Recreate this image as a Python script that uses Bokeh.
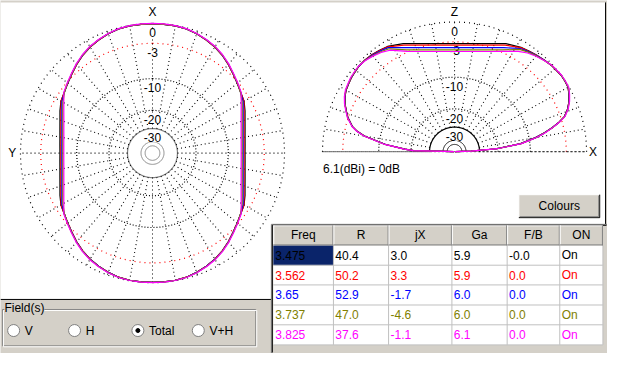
import numpy as np
from bokeh.plotting import figure
from bokeh.models import Range1d
from bokeh.core.properties import value
from bokeh.embed import file_html
from bokeh.resources import INLINE

# ---------------- data ----------------
ring_db = [0, -3, -10, -20, -30]
ring_labels = ["0", "-3", "-10", "-20", "-30"]
inner_db = [-44, -52]
spoke_step = 10

series_colors = ["#000000", "#ff0000", "#0000ff", "#808000", "#ff00ff"]

# azimuth (XY plane) pattern, one quadrant (deg from X axis), dB
az_angles = [0, 5, 10, 15, 20, 25, 30, 35, 40, 45, 50, 55, 60, 65, 70, 75, 80, 85, 90]
az_black = [-0.05, -0.05, -0.07, -0.16, -0.38, -0.68, -1.03, -1.48, -2.04, -2.65, -3.18,
            -3.66, -4.0, -4.63, -5.28, -5.77, -6.12, -6.32, -6.4]
az_red = [-0.05, -0.05, -0.07, -0.16, -0.38, -0.68, -1.03, -1.48, -2.04, -2.65, -3.18,
          -3.66, -4.02, -4.82, -5.47, -5.97, -6.31, -6.52, -6.59]
az_blue = [-0.05, -0.05, -0.07, -0.15, -0.37, -0.66, -1.0, -1.45, -2.0, -2.62, -3.16,
           -3.68, -4.19, -5.01, -5.66, -6.16, -6.51, -6.71, -6.78]
az_olive = [-0.05, -0.05, -0.07, -0.15, -0.36, -0.65, -0.99, -1.43, -1.99, -2.6, -3.15,
            -3.7, -4.39, -5.2, -5.86, -6.35, -6.7, -6.91, -6.98]
az_magenta = [0.0, 0.0, -0.03, -0.11, -0.32, -0.6, -0.93, -1.38, -1.93, -2.54, -3.08,
              -3.58, -4.58, -5.4, -6.06, -6.55, -6.9, -7.1, -7.17]

# elevation (XZ plane) pattern, deg from +X horizon, dB
el_angles = [0, 2, 4, 7, 10, 12, 14, 16, 18, 21, 24, 27, 30, 33, 36, 42, 46, 50, 54, 58,
             65, 70, 75, 80, 85, 90, 95, 100, 105, 110, 115, 122, 126, 130, 134, 138, 141,
             144, 147, 150, 153, 156, 159, 162, 166, 168, 170, 174, 177, 178.5, 180]
el_black = [-99, -37.4, -20.5, -12.3, -8.5, -6.5, -4.9, -3.5, -2.4, -1.55, -0.95, -0.5,
            -0.13, -0.04, 0.0, -0.16, -0.34, -0.54, -0.75, -0.94, -1.5, -2.15, -2.65, -3.0,
            -3.2, -3.27, -3.2, -3.0, -2.65, -2.15, -1.5, -0.79, -0.6, -0.44, -0.36, -0.39,
            -0.5, -0.61, -0.79, -0.95, -1.28, -1.74, -2.34, -2.95, -4.1, -5.1, -6.6, -11.6,
            -17.6, -21.1, -99]
el_red = [-99, -37.4, -20.5, -12.3, -8.5, -6.5, -4.9, -3.5, -2.4, -1.55, -0.95, -0.5,
          -0.12, -0.04, 0.0, -0.16, -0.35, -0.56, -0.78, -1.0, -1.77, -2.42, -2.92, -3.27,
          -3.48, -3.54, -3.48, -3.27, -2.92, -2.42, -1.77, -0.85, -0.64, -0.48, -0.37, -0.39,
          -0.5, -0.6, -0.78, -0.95, -1.28, -1.74, -2.34, -2.95, -4.1, -5.1, -6.6, -11.6,
          -17.6, -21.1, -99]
el_blue = [-99, -37.4, -20.5, -12.3, -8.5, -6.5, -4.9, -3.48, -2.38, -1.53, -0.93, -0.48,
           -0.1, -0.03, 0.0, -0.15, -0.38, -0.6, -0.85, -1.15, -2.2, -2.85, -3.35, -3.7,
           -3.9, -3.97, -3.9, -3.7, -3.35, -2.85, -2.2, -1.0, -0.75, -0.55, -0.4, -0.38,
           -0.49, -0.58, -0.76, -0.93, -1.26, -1.72, -2.32, -2.93, -4.08, -5.08, -6.58,
           -11.6, -17.5, -21.0, -99]
el_olive = [-99, -37.4, -20.4, -12.2, -8.4, -6.45, -4.85, -3.45, -2.35, -1.5, -0.9, -0.45,
            -0.08, -0.02, 0.0, -0.14, -0.4, -0.65, -0.95, -1.3, -2.6, -3.25, -3.75, -4.1,
            -4.3, -4.37, -4.3, -4.1, -3.75, -3.25, -2.6, -1.2, -0.88, -0.62, -0.42, -0.37,
            -0.47, -0.56, -0.74, -0.9, -1.23, -1.7, -2.3, -2.9, -4.05, -5.05, -6.55, -11.5,
            -17.4, -20.9, -99]
el_magenta = [-99, -37.2, -20.3, -12.1, -8.3, -6.35, -4.8, -3.4, -2.3, -1.45, -0.85, -0.4,
              -0.03, 0.02, 0.05, -0.1, -0.42, -0.72, -1.1, -1.65, -2.87, -3.53, -4.02, -4.37,
              -4.58, -4.65, -4.58, -4.37, -4.02, -3.53, -2.87, -1.45, -1.0, -0.7, -0.45,
              -0.33, -0.42, -0.5, -0.68, -0.85, -1.18, -1.65, -2.25, -2.85, -4.0, -5.0,
              -6.5, -11.4, -17.3, -20.8, -99]

max_gain = 6.1

# table
tbl_headers = ["Freq", "R", "jX", "Ga", "F/B", "ON"]
tbl_freq = ["3.475", "3.562", "3.65", "3.737", "3.825"]
tbl_R = [40.4, 50.2, 52.9, 47.0, 37.6]
tbl_jX = [3.0, 3.3, -1.7, -4.6, -1.1]
tbl_Ga = [5.9, 5.9, 6.0, 6.0, 6.1]
tbl_FB = [-0.0, 0.0, 0.0, 0.0, 0.0]
tbl_on = ["On", "On", "On", "On", "On"]

field_options = ["V", "H", "Total", "V+H"]
field_selected = "Total"

# ---------------- layout constants ----------------
FONT = value("Liberation Sans")
FS = "12px"
GRAY = "#d4d0c8"
DARK = "#808080"
R = 135.5
K = 0.0555
LC = (156.0, 159.5)   # azimuth plot centre
RC = (466.0, 158.0)   # elevation plot centre
PW = 1.2              # pattern line width


def rad(db):
    return R * np.exp(K * np.maximum(np.asarray(db, dtype=float), -99))


p = figure(width=607, height=353, x_range=Range1d(0, 623), y_range=Range1d(369, 0),
           output_backend="svg", toolbar_location=None, min_border=0)
p.axis.visible = False
p.grid.visible = False
p.outline_line_color = None
p.background_fill_color = GRAY
p.border_fill_color = GRAY

# white drawing panel
p.quad(left=0, right=621, top=2, bottom=312.5, fill_color="white", line_color=None)
p.segment(x0=[0, 621], y0=[312.5, 2], x1=[278, 621], y1=[312.5, 234], line_color="black",
          line_width=1)

ring_style = {0: ("black", "1 4"), -3: ("#ff0000", "1 4"), -10: ("black", "1 2"),
              -20: ("black", "1 2"), -30: (DARK, "solid")}

# ---------- azimuth plot (full circle) ----------
t = np.linspace(0, 2 * np.pi, 721)
cx, cy = LC
for db in ring_db:
    col, dash = ring_style[db]
    r = rad(db)
    p.line(cx + r * np.sin(t), cy - r * np.cos(t), line_color=col, line_dash=dash,
           line_width=1.2)
for db in inner_db:
    r = rad(db)
    p.line(cx + r * np.sin(t), cy - r * np.cos(t), line_color=DARK, line_width=1)
sp = np.deg2rad(np.arange(0, 360, spoke_step))
r0, r1 = rad(-30), rad(0)
p.multi_line(xs=[[cx + r0 * np.sin(a), cx + r1 * np.sin(a)] for a in sp],
             ys=[[cy - r0 * np.cos(a), cy - r1 * np.cos(a)] for a in sp],
             line_color="black", line_dash="1 3", line_width=1.1)
p.text(x=[cx] * len(ring_db), y=list(cy - rad(ring_db) + 9.5), text=ring_labels,
       text_align="center", text_baseline="middle", text_font=FONT, text_font_size=FS,
       background_fill_color="white")

a = np.array(az_angles, dtype=float)
th_full = np.deg2rad(np.concatenate([a, (180 - a[::-1])[1:], (180 + a)[1:],
                                     (360 - a[::-1])[1:]]))
for vals, col in zip([az_black, az_red, az_blue, az_olive, az_magenta], series_colors):
    v = np.array(vals)
    vf = np.concatenate([v, v[::-1][1:], v[1:], v[::-1][1:]])
    r = rad(vf)
    p.line(cx + r * np.sin(th_full), cy - r * np.cos(th_full), line_color=col,
           line_width=PW)

p.text(x=[cx, 12], y=[12, cy], text=["X", "Y"], text_align="center", text_baseline="middle",
       text_font=FONT, text_font_size=FS, text_color="black")

# ---------- elevation plot (half circle) ----------
cx, cy = RC
t2 = np.linspace(0, np.pi, 361)
for db in ring_db:
    col, dash = ring_style[db]
    if db == -30:
        col = "black"
    r = rad(db)
    p.line(cx + r * np.cos(t2), cy - r * np.sin(t2), line_color=col, line_dash=dash,
           line_width=1.2)
for db in inner_db:
    r = rad(db)
    p.line(cx + r * np.cos(t2), cy - r * np.sin(t2), line_color="black", line_width=1)
sp2 = np.deg2rad(np.arange(0, 181, spoke_step))
p.multi_line(xs=[[cx + r0 * np.cos(a_), cx + r1 * np.cos(a_)] for a_ in sp2],
             ys=[[cy - r0 * np.sin(a_), cy - r1 * np.sin(a_)] for a_ in sp2],
             line_color="black", line_dash="1 3", line_width=1.1)
p.segment(x0=[cx - r1], y0=[cy], x1=[cx + r1], y1=[cy], line_color="black",
          line_dash="1 3", line_width=1.1)
p.text(x=[cx] * len(ring_db), y=list(cy - rad(ring_db) + 9.5), text=ring_labels,
       text_align="center", text_baseline="middle", text_font=FONT, text_font_size=FS,
       background_fill_color="white")
e = np.deg2rad(np.array(el_angles, dtype=float))
for vals, col in zip([el_black, el_red, el_blue, el_olive, el_magenta], series_colors):
    r = rad(vals)
    p.line(cx + r * np.cos(e), cy - r * np.sin(e), line_color=col, line_width=PW)

p.text(x=[cx, 608], y=[12, cy], text=["Z", "X"], text_align="center", text_baseline="middle",
       text_font=FONT, text_font_size=FS)
p.text(x=[331], y=[176], text=[f"{max_gain}(dBi) = 0dB"], text_align="left",
       text_baseline="middle", text_font=FONT, text_font_size=FS)

# ---------- Colours button ----------
bl, br, bt, bb = 532, 615, 203, 227
p.quad(left=bl, right=br, top=bt, bottom=bb, fill_color=GRAY, line_color=None)
p.multi_line(xs=[[bl, br], [bl, bl]], ys=[[bt, bt], [bt, bb]], line_color="white")
p.multi_line(xs=[[bl, br], [br, br]], ys=[[bb, bb], [bt, bb]], line_color="black")
p.multi_line(xs=[[bl + 1, br - 1], [br - 1, br - 1]], ys=[[bb - 1, bb - 1], [bt + 1, bb - 1]],
             line_color=DARK)
p.text(x=[(bl + br) / 2], y=[(bt + bb) / 2], text=["Colours"], text_align="center",
       text_baseline="middle", text_font=FONT, text_font_size=FS)

# ---------- table ----------
cols = [280, 341.7, 398.3, 463.3, 520, 574, 618.3]
rows = [235, 256, 276.7, 297.3, 318.3, 339, 360]
p.quad(left=278, right=623, top=234, bottom=369, fill_color=GRAY, line_color=None)
p.multi_line(xs=[[278, 278], [278, 623]], ys=[[234, 369], [234, 234]], line_color=DARK)
p.multi_line(xs=[[279, 279], [279, 622]], ys=[[235, 368], [235, 235]], line_color="black")
p.quad(left=cols[0], right=cols[-1], top=rows[1], bottom=rows[-1], fill_color="white",
       line_color=None)
p.quad(left=cols[0], right=cols[1], top=rows[1], bottom=rows[2], fill_color="#0a246a",
       line_color=None)
p.multi_line(xs=[[cols[0], cols[-1]] for _ in rows[2:]], ys=[[y, y] for y in rows[2:]],
             line_color="#c0c0c0")
p.multi_line(xs=[[x, x] for x in cols[1:]], ys=[[rows[1], rows[-1]] for _ in cols[1:]],
             line_color="#c0c0c0")
for i in range(len(tbl_headers)):
    l, r_ = cols[i], cols[i + 1]
    p.multi_line(xs=[[l, r_], [l + 0.5, l + 0.5]], ys=[[rows[0] + 0.5, rows[0] + 0.5],
                 [rows[0], rows[1]]], line_color="white")
    p.multi_line(xs=[[l, r_], [r_ - 0.5, r_ - 0.5]], ys=[[rows[1] - 0.5, rows[1] - 0.5],
                 [rows[0], rows[1]]], line_color=DARK)
p.text(x=[(cols[i] + cols[i + 1]) / 2 for i in range(len(tbl_headers))],
       y=[(rows[0] + rows[1]) / 2] * len(tbl_headers), text=tbl_headers,
       text_align="center", text_baseline="middle", text_font=FONT, text_font_size=FS)

tx, ty, tt, tc = [], [], [], []
for j in range(5):
    cells = [tbl_freq[j], f"{tbl_R[j]:.1f}", f"{tbl_jX[j]:.1f}", f"{tbl_Ga[j]:.1f}",
             f"{tbl_FB[j]:.1f}", tbl_on[j]]
    for i, s in enumerate(cells):
        tx.append(cols[i] + 2)
        ty.append((rows[j + 1] + rows[j + 2]) / 2)
        tt.append(s)
        tc.append(series_colors[j])
p.text(x=tx, y=ty, text=tt, text_color=tc, text_align="left", text_baseline="middle",
       text_font=FONT, text_font_size=FS)

# ---------- Field(s) group ----------
gl, gr, gt, gb = 2, 262, 323, 361
p.multi_line(xs=[[gl, gr, gr, gl, gl]], ys=[[gt, gt, gb, gb, gt]], line_color=DARK)
p.multi_line(xs=[[gl + 1, gr + 1, gr + 1, gl + 1, gl + 1]],
             ys=[[gt + 1, gt + 1, gb + 1, gb + 1, gt + 1]], line_color="white")
p.text(x=[4], y=[321], text=["Field(s)"], text_align="left", text_baseline="middle",
       text_font=FONT, text_font_size=FS, background_fill_color=GRAY)
rx = [13.5, 76, 141, 203]
ry = 345
p.scatter(x=rx, y=[ry] * 4, size=12, marker="circle", fill_color="white",
          line_color=DARK, line_width=1)
sel = field_options.index(field_selected)
p.scatter(x=[rx[sel]], y=[ry], size=4, marker="circle", fill_color="black",
          line_color="black")
p.text(x=[x + 11.5 for x in rx], y=[ry] * 4, text=field_options, text_align="left",
       text_baseline="middle", text_font=FONT, text_font_size=FS)

open("out.html", "w").write(file_html(p, INLINE))
